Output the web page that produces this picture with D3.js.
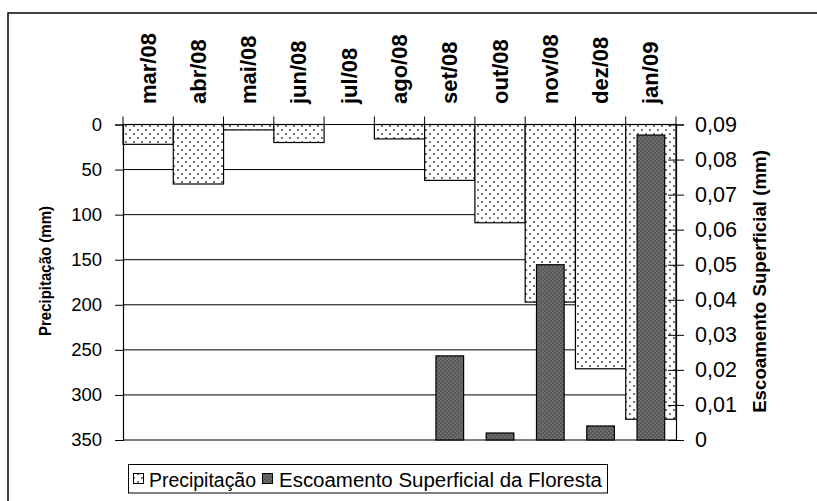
<!DOCTYPE html>
<html><head><meta charset="utf-8">
<script src="https://cdn.jsdelivr.net/npm/d3@7"></script>
<style>body{margin:0;background:#fff}svg{display:block}text{font-family:Arial,"Liberation Sans",sans-serif}</style>
</head><body>
<svg id="c" width="817" height="501"></svg>
<script>
const categories = ["mar/08","abr/08","mai/08","jun/08","jul/08","ago/08","set/08","out/08","nov/08","dez/08","jan/09"];
const precipitacao = [22, 66, 6, 20, 0, 16, 62, 109, 197, 271, 327];
const escoamento = [0, 0, 0, 0, 0, 0, 0.024, 0.002, 0.050, 0.004, 0.087];
const leftTicks = [0,50,100,150,200,250,300,350];
const rightTicks = [0,0.01,0.02,0.03,0.04,0.05,0.06,0.07,0.08,0.09];

const svg = d3.select("#c");
const L = 123, R = 676, T = 124.5, B = 440;
const FF = "Arial, 'Liberation Sans', sans-serif";

const defs = svg.append("defs");
const p1 = defs.append("pattern").attr("id","dots").attr("patternUnits","userSpaceOnUse").attr("width",8).attr("height",8);
p1.append("rect").attr("width",8).attr("height",8).attr("fill","#fff");
p1.append("rect").attr("x",1).attr("y",1).attr("width",2).attr("height",2).attr("fill","#777");
p1.append("rect").attr("x",5).attr("y",5).attr("width",2).attr("height",2).attr("fill","#777");
const p2 = defs.append("pattern").attr("id","dark").attr("patternUnits","userSpaceOnUse").attr("width",4).attr("height",4);
p2.append("rect").attr("width",4).attr("height",4).attr("fill","#575757");
p2.append("rect").attr("x",0).attr("y",0).attr("width",2).attr("height",2).attr("fill","#6e6e6e");
p2.append("rect").attr("x",2).attr("y",2).attr("width",2).attr("height",2).attr("fill","#6e6e6e");

// outer frame
svg.append("rect").attr("x",8).attr("y",13).attr("width",830).attr("height",520)
  .attr("fill","none").attr("stroke","#000").attr("stroke-width",1.5);

const x = d3.scaleBand().domain(categories).range([L,R]).padding(0);
const yL = d3.scaleLinear().domain([0,350]).range([T,B]);
const yR = d3.scaleLinear().domain([0,0.09]).range([B,T]);

// gridlines
svg.append("g").selectAll("line").data(leftTicks.slice(1)).join("line")
  .attr("x1",L).attr("x2",R).attr("y1",d=>yL(d)).attr("y2",d=>yL(d))
  .attr("stroke","#000").attr("stroke-width",1);

// precipitation bars
svg.append("g").selectAll("rect").data(categories).join("rect")
  .attr("x",d=>x(d)).attr("width",x.bandwidth())
  .attr("y",yL(0)).attr("height",(d,i)=>yL(precipitacao[i])-yL(0))
  .attr("fill","url(#dots)").attr("stroke",(d,i)=>precipitacao[i]>0?"#000":"none").attr("stroke-width",1.2);

// runoff bars
const bw = x.bandwidth()*0.55;
svg.append("g").selectAll("rect").data(categories).join("rect")
  .attr("x",d=>x(d)+(x.bandwidth()-bw)/2).attr("width",bw)
  .attr("y",(d,i)=>yR(escoamento[i])).attr("height",(d,i)=>yR(0)-yR(escoamento[i]))
  .attr("fill","url(#dark)").attr("stroke",(d,i)=>escoamento[i]>0?"#000":"none").attr("stroke-width",1.2);

// left axis
const gl = svg.append("g").attr("transform",`translate(${L},0)`)
  .call(d3.axisLeft(yL).tickValues(leftTicks).tickSize(8).tickPadding(13).tickFormat(d3.format("d")));
gl.attr("font-family",FF).attr("font-size",18.5);
gl.select(".domain").attr("stroke","#000").attr("stroke-width",1.2);
gl.selectAll(".tick line").attr("stroke","#000");
gl.selectAll("text").attr("fill","#000");

// right axis
const fmt = d => d===0 ? "0" : d3.format(".2f")(d).replace(".",",");
const gr = svg.append("g").attr("transform",`translate(${R},0)`)
  .call(d3.axisRight(yR).tickValues(rightTicks).tickSize(8).tickPadding(11).tickFormat(fmt));
gr.attr("font-family",FF).attr("font-size",21.5);
gr.select(".domain").attr("stroke","#000").attr("stroke-width",1.2);
gr.selectAll(".tick line").attr("stroke","#000").attr("x1",-8);
gr.selectAll("text").attr("fill","#000");

// top category axis
svg.append("g").selectAll("line").data(categories.concat(["_end"])).join("line")
  .attr("x1",(d,i)=>L+i*x.step()).attr("x2",(d,i)=>L+i*x.step())
  .attr("y1",T-8).attr("y2",T).attr("stroke","#000");
svg.append("line").attr("x1",L).attr("x2",R).attr("y1",T).attr("y2",T).attr("stroke","#000").attr("stroke-width",1.2);
svg.append("g").selectAll("text").data(categories).join("text")
  .attr("transform",d=>`translate(${x(d)+x.bandwidth()/2+7.5},104) rotate(-90)`)
  .attr("text-anchor","start").attr("font-weight","bold").attr("font-size",22).text(d=>d);

// axis titles
svg.append("text").attr("transform","translate(50.5,271) rotate(-90)").attr("text-anchor","middle")
  .attr("font-weight","bold").attr("font-size",16.5).attr("textLength",130).attr("lengthAdjust","spacingAndGlyphs")
  .text("Precipitação (mm)");
svg.append("text").attr("transform","translate(765.5,281.5) rotate(-90)").attr("text-anchor","middle")
  .attr("font-weight","bold").attr("font-size",18.7).text("Escoamento Superficial (mm)");

// legend
const lg = svg.append("g");
lg.append("rect").attr("x",128.5).attr("y",464.5).attr("width",479).attr("height",28.5).attr("fill","#fff").attr("stroke","#000");
lg.append("rect").attr("x",133.5).attr("y",473.5).attr("width",10).attr("height",10).attr("fill","url(#dots)").attr("stroke","#000");
lg.append("text").attr("x",149).attr("y",486.5).attr("font-size",20).attr("textLength",107).attr("lengthAdjust","spacingAndGlyphs").text("Precipitação");
lg.append("rect").attr("x",262.5).attr("y",473.5).attr("width",10).attr("height",10).attr("fill","url(#dark)").attr("stroke","#000");
lg.append("text").attr("x",279).attr("y",486.5).attr("font-size",20).attr("textLength",323).attr("lengthAdjust","spacingAndGlyphs").text("Escoamento Superficial da Floresta");
</script>
</body></html>
